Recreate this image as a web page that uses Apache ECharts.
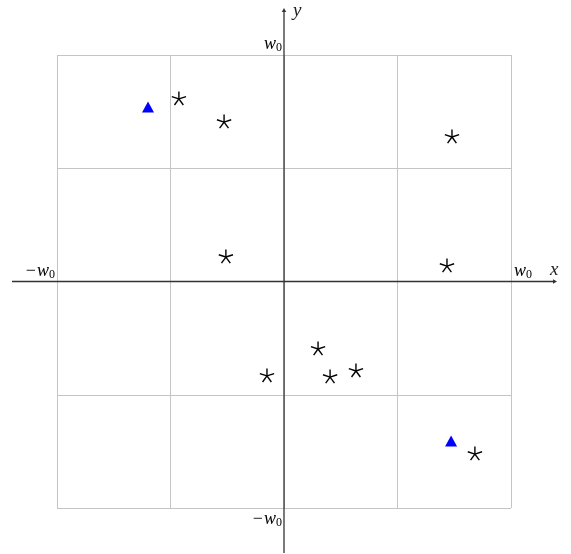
<!DOCTYPE html>
<html>
<head>
<meta charset="utf-8">
<script src="https://cdn.jsdelivr.net/npm/echarts@6/dist/echarts.min.js"></script>
<style>
  html, body { margin: 0; padding: 0; background: #fff; }
  #chart { width: 571px; height: 554px; }
</style>
</head>
<body>
<div id="chart"></div>
<script>
// Positions in units of w0
const starX = [-0.463, -0.264, 0.740, -0.256, 0.718, 0.150, -0.075, 0.203, 0.317, 0.841];
const starY = [0.806, 0.704, 0.638, 0.108, 0.068, -0.298, -0.417, -0.422, -0.395, -0.762];
const triX = [-0.599, 0.736];
const triY = [0.770, -0.704];
const axisMin = -1, axisMax = 1, axisStep = 0.5;

const stars = starX.map((x, i) => [x, starY[i]]);
const tris = triX.map((x, i) => [x, triY[i]]);

const chart = echarts.init(document.getElementById('chart'), null, { renderer: 'canvas' });

// Five-spoke asterisk marker
function renderStar(params, api) {
  const p = api.coord([api.value(0), api.value(1)]);
  const r = 7.5;
  const children = [];
  for (let k = 0; k < 5; k++) {
    const a = -Math.PI / 2 + k * 2 * Math.PI / 5;
    children.push({
      type: 'line',
      shape: { x1: p[0], y1: p[1], x2: p[0] + r * Math.cos(a), y2: p[1] + r * Math.sin(a) },
      style: { stroke: '#000', lineWidth: 1.4 }
    });
  }
  return { type: 'group', children };
}

const valueAxis = {
  type: 'value', min: axisMin, max: axisMax, interval: axisStep,
  axisLine: { show: false }, axisTick: { show: false }, axisLabel: { show: false },
  splitLine: { show: true, lineStyle: { color: '#c4c4c4', width: 1 } }
};

chart.setOption({
  animation: false,
  grid: { left: 57, right: 60, top: 55, bottom: 46 },
  xAxis: Object.assign({}, valueAxis),
  yAxis: Object.assign({}, valueAxis),
  series: [
    { type: 'custom', data: stars, renderItem: renderStar, z: 5 },
    { type: 'scatter', data: tris, symbol: 'triangle', symbolSize: [12, 11],
      itemStyle: { color: '#0000ff', opacity: 1 }, z: 6 }
  ]
});

// Axes through the origin, extending past the grid, with arrow heads and labels
const o = chart.convertToPixel({ gridIndex: 0 }, [0, 0]);
const pMax = chart.convertToPixel({ gridIndex: 0 }, [axisMax, axisMax]);
const pMin = chart.convertToPixel({ gridIndex: 0 }, [axisMin, axisMin]);
const axisColor = '#333';
const serif = '"Liberation Serif", "DejaVu Serif", serif';
const rich = {
  w: { fontFamily: serif, fontStyle: 'italic', fontSize: 18, color: '#222' },
  s: { fontFamily: serif, fontSize: 12, color: '#222', padding: [7, 0, 0, 0] },
  m: { fontFamily: serif, fontSize: 18, color: '#222', padding: [0, 1, 0, 0] }
};
function wLabel(text, x, y, align) {
  return {
    type: 'text', x, y, z: 10,
    style: { text, rich, align, verticalAlign: 'middle' }
  };
}

chart.setOption({
  graphic: [
    { type: 'line', shape: { x1: 12, y1: o[1], x2: 555, y2: o[1] },
      style: { stroke: axisColor, lineWidth: 1.3 }, z: 8 },
    { type: 'polygon', shape: { points: [[557, o[1]], [553, o[1] - 2.2], [553, o[1] + 2.2]] },
      style: { fill: axisColor }, z: 8 },
    { type: 'line', shape: { x1: o[0], y1: 553, x2: o[0], y2: 10 },
      style: { stroke: axisColor, lineWidth: 1.3 }, z: 8 },
    { type: 'polygon', shape: { points: [[o[0], 8], [o[0] - 2.2, 12], [o[0] + 2.2, 12]] },
      style: { fill: axisColor }, z: 8 },
    { type: 'text', x: 550, y: o[1] - 12, z: 10,
      style: { text: 'x', fontFamily: serif, fontStyle: 'italic', fontSize: 19, fill: '#222',
               verticalAlign: 'middle' } },
    { type: 'text', x: o[0] + 9, y: 11, z: 10,
      style: { text: 'y', fontFamily: serif, fontStyle: 'italic', fontSize: 19, fill: '#222',
               verticalAlign: 'middle' } },
    wLabel('{w|w}{s|0}', pMax[0] + 3, o[1] - 10, 'left'),
    wLabel('{m|\u2212}{w|w}{s|0}', pMin[0] - 2, o[1] - 10, 'right'),
    wLabel('{w|w}{s|0}', o[0] - 2, pMax[1] - 11, 'right'),
    wLabel('{m|\u2212}{w|w}{s|0}', o[0] - 2, pMin[1] + 11, 'right')
  ]
});
</script>
</body>
</html>
